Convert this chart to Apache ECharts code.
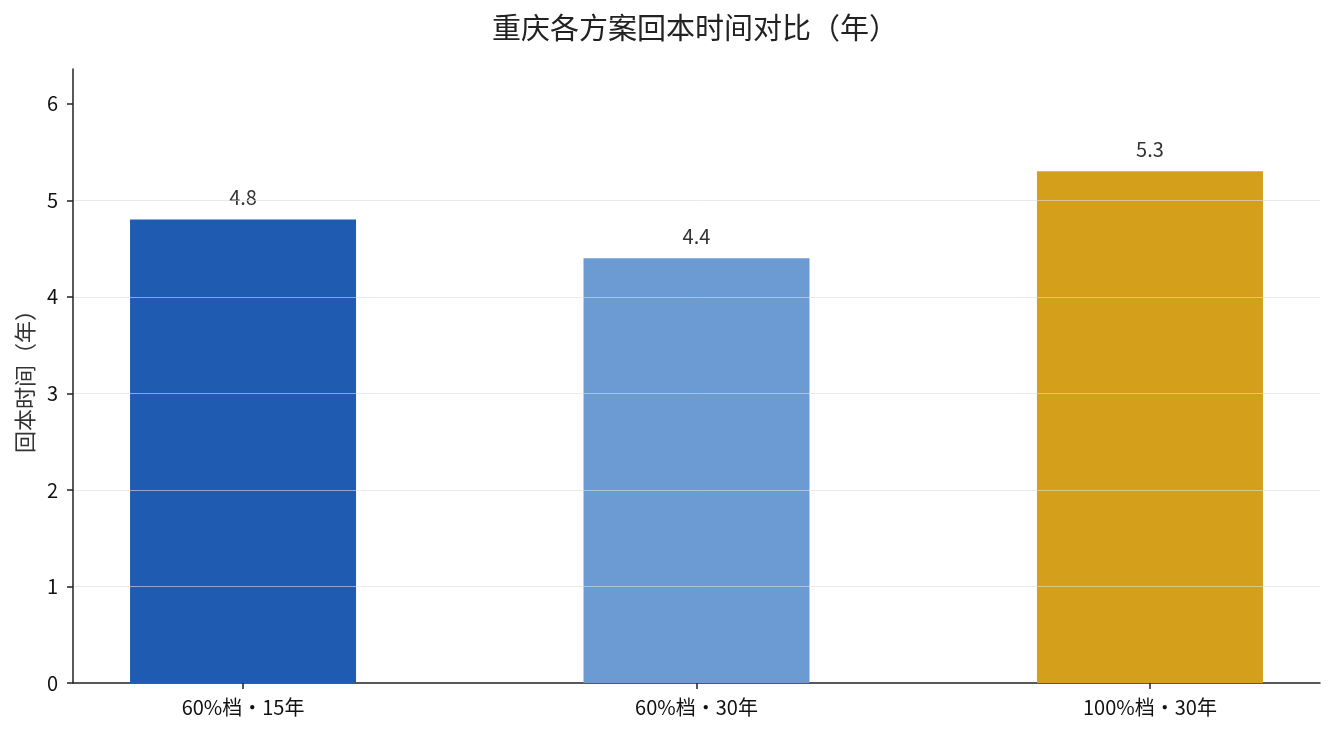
<!DOCTYPE html>
<html>
<head>
<meta charset="utf-8">
<script src="https://cdn.jsdelivr.net/npm/echarts@6/dist/echarts.min.js"></script>
<style>
html,body{margin:0;padding:0;background:#fff;}
#main{width:1335px;height:735px;}
</style>
</head>
<body>
<div id="main"></div>
<script>
const categories = ['60%档・15年', '60%档・30年', '100%档・30年'];
const values = [4.8, 4.4, 5.3];
const barColors = ['#1f5bb0', '#6b9bd2', '#d4a01b'];
const yTicks = [0, 1, 2, 3, 4, 5, 6];

const FONT = '"Noto Sans CJK SC", "Noto Sans", sans-serif';
const chart = echarts.init(document.getElementById('main'));
const catIdx = categories.map((c, i) => i);

chart.setOption({
  animation: false,
  backgroundColor: '#fff',
  textStyle: { fontFamily: FONT },
  title: {
    text: '重庆各方案回本时间对比（年）',
    left: 690,
    textAlign: 'center',
    top: 8,
    textStyle: { fontFamily: FONT, fontSize: 29, fontWeight: 'normal', color: '#222' }
  },
  grid: { left: 73, right: 15, top: 69, bottom: 52, containLabel: false },
  xAxis: {
    type: 'value',
    min: -0.375,
    max: 2.375,
    axisLine: { show: true, onZero: false, lineStyle: { color: '#222', width: 1.5 } },
    axisTick: { show: true, customValues: catIdx, length: 6, lineStyle: { color: '#222', width: 1.5 } },
    axisLabel: {
      customValues: catIdx,
      formatter: v => categories[Math.round(v)] || '',
      margin: 14,
      fontSize: 20,
      color: '#111',
      fontFamily: FONT
    },
    splitLine: { show: false }
  },
  yAxis: {
    type: 'value',
    min: 0,
    max: 6.36,
    z: 3,
    name: '回本时间（年）',
    nameLocation: 'middle',
    nameRotate: 90,
    nameGap: 35,
    nameTextStyle: { fontFamily: FONT, fontSize: 22, color: '#333' },
    axisLine: { show: true, onZero: false, lineStyle: { color: '#222', width: 1.5 } },
    axisTick: { show: true, customValues: yTicks, length: 6, lineStyle: { color: '#222', width: 1.5 } },
    axisLabel: { customValues: yTicks, margin: 15, fontSize: 20, color: '#111', fontFamily: FONT },
    splitLine: { show: true, showMinLine: false, showMaxLine: false, lineStyle: { color: 'rgba(220,220,220,0.6)', width: 1 } }
  },
  series: [{
    type: 'bar',
    barWidth: 226,
    z: 2,
    data: values.map((v, i) => ({ value: [i, v], itemStyle: { color: barColors[i] } })),
    label: {
      show: true,
      position: 'top',
      distance: 12,
      formatter: p => p.value[1].toFixed(1),
      fontSize: 20,
      color: '#333',
      fontFamily: FONT
    }
  }]
});
</script>
</body>
</html>
